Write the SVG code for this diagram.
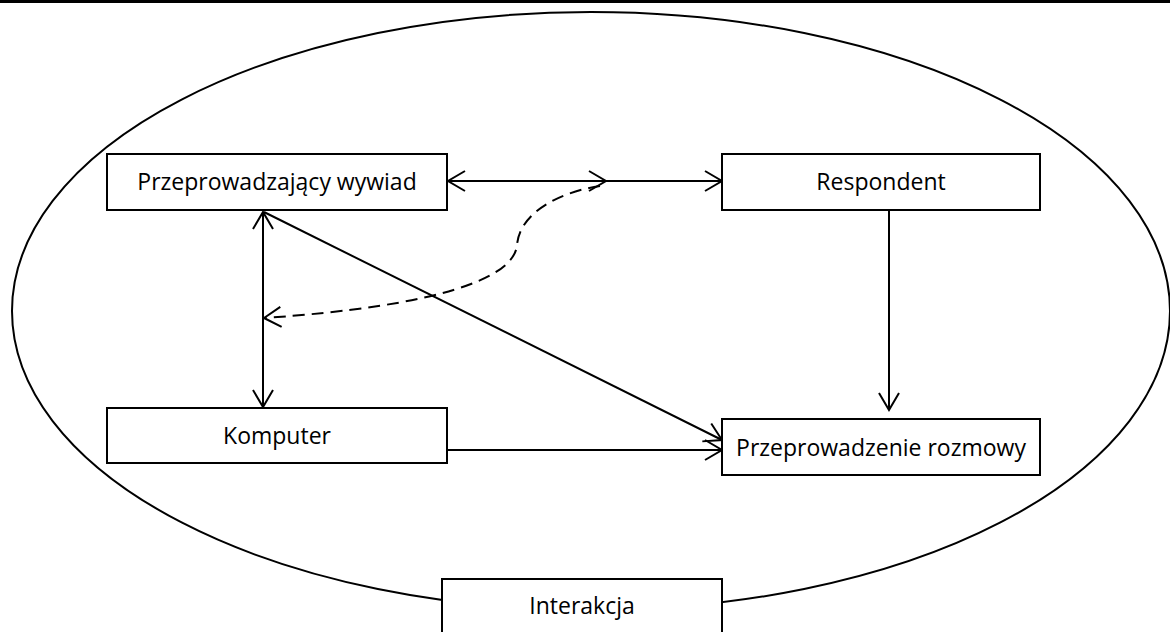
<svg xmlns="http://www.w3.org/2000/svg" width="1170" height="632" viewBox="0 0 1170 632">
<style>
.box{fill:#fff;stroke:#000;stroke-width:2}
.lbl{font-family:"Open Sans","Liberation Sans",sans-serif;font-size:23px;fill:#000;text-anchor:middle}
.c{fill:none;stroke:#000;stroke-width:2}
.d{fill:none;stroke:#000;stroke-width:2;stroke-dasharray:12 7}
</style>
<defs>
<marker id="a" markerUnits="userSpaceOnUse" markerWidth="40" markerHeight="40" refX="0" refY="0" viewBox="-20 -20 40 40" orient="auto-start-reverse" overflow="visible">
<path d="M-17,-10 L0,0 L-17,10" fill="none" stroke="#000" stroke-width="2"/>
</marker>
</defs>
<rect x="0" y="0" width="1170" height="3" fill="#000"/>
<ellipse cx="591" cy="311" rx="579" ry="299" fill="none" stroke="#000" stroke-width="2"/>
<g id="connectors">
<line class="c" x1="448" y1="181" x2="606" y2="181" marker-start="url(#a)" marker-end="url(#a)"/>
<line class="c" x1="606" y1="181" x2="722" y2="181" marker-end="url(#a)"/>
<line class="c" x1="263" y1="212" x2="263" y2="407" marker-start="url(#a)" marker-end="url(#a)"/>
<line class="c" x1="264" y1="212" x2="722" y2="440" marker-end="url(#a)"/>
<line class="c" x1="447" y1="450" x2="722" y2="450" marker-end="url(#a)"/>
<line class="c" x1="889" y1="210" x2="889" y2="410" marker-end="url(#a)"/>
<path class="d" d="M600,186 C560,192 520,212 517,245 C514,278 440,306 264,318" marker-end="url(#a)"/>
</g>
<g id="n1"><rect class="box" x="107" y="154" width="340" height="56"/><text class="lbl" x="277" y="190">Przeprowadzający wywiad</text></g>
<g id="n2"><rect class="box" x="722" y="154" width="318" height="56"/><text class="lbl" x="881" y="190">Respondent</text></g>
<g id="n3"><rect class="box" x="107" y="408" width="340" height="55"/><text class="lbl" x="277" y="444">Komputer</text></g>
<g id="n4"><rect class="box" x="722" y="419" width="318" height="56"/><text class="lbl" x="881" y="456">Przeprowadzenie rozmowy</text></g>
<g id="n5"><rect class="box" x="442" y="579" width="280" height="60"/><text class="lbl" x="582" y="614">Interakcja</text></g>
</svg>
